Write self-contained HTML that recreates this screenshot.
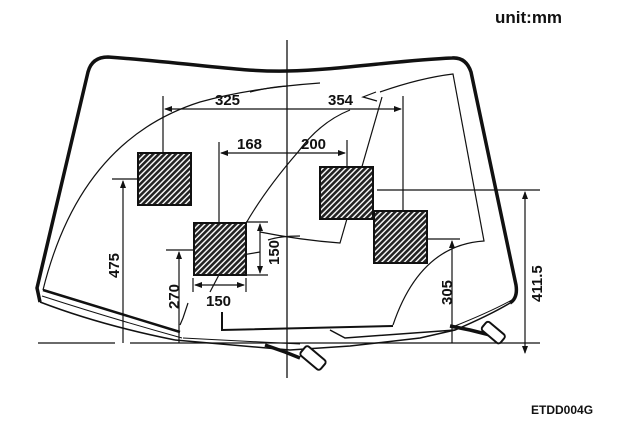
<!DOCTYPE html>
<html><head><style>
html,body{margin:0;padding:0;background:#fff;}
svg{display:block;}
text{font-family:"Liberation Sans",Arial,sans-serif;font-weight:bold;fill:#111;}
</style></head><body>
<svg width="620" height="428" viewBox="0 0 620 428" xmlns="http://www.w3.org/2000/svg">
<defs>
<pattern id="h" patternUnits="userSpaceOnUse" width="4" height="4" patternTransform="rotate(45)">
<rect width="4" height="4" fill="#fff"/>
<rect width="2.6" height="4" fill="#222"/>
</pattern>
<marker id="a" markerWidth="8" markerHeight="6" refX="7" refY="3" orient="auto" markerUnits="userSpaceOnUse">
<path d="M0,0 L8,3 L0,6 z" fill="#111"/>
</marker>
</defs>
<text x="495" y="23" font-size="17">unit:mm</text>
<text x="531" y="414" font-size="12" font-weight="normal">ETDD004G</text>

<g fill="none" stroke="#111">
<path d="M40,302 L37,288 L88,72 Q92,57 108,57 C200,64 240,72 287,71 C340,70 400,60 452,58 Q466,57 471,72 L516,285 Q518,298 510,303" stroke-width="3.5"/>
<path d="M40,302 Q100,325 175,340" stroke-width="1.5"/>
<path d="M42,296 Q110,318 182,338" stroke-width="1"/>
<path d="M43,290 L180,332" stroke-width="2.5"/>
<path d="M175,340 L290,350 L350,346 L420,338 L455,330 Q490,315 510,303" stroke-width="1.5"/>
<path d="M183,338 L300,344" stroke-width="1"/>
<path d="M455,326 Q490,312 512,300" stroke-width="1"/>
<path d="M222,312 L222,330 L393,326" stroke-width="2"/>
<path d="M330,330 L345,338 L455,330" stroke-width="1.5"/>
<path d="M43,290 Q80,140 200,102 Q250,88 320,83" stroke-width="1.2"/>
<path d="M380,92 Q420,78 453,74 L484,241 Q420,245 393,325" stroke-width="1.2"/>
<path d="M382,97 L340,243 Q300,240 260,232" stroke-width="1.2"/>
<path d="M350,110 Q320,122 298,152 Q265,190 245,225 L210,292" stroke-width="1.2"/>
<path d="M250,92 Q270,87 287,86" stroke-width="1.2"/>
<path d="M376,92 L363,97 L377,101" stroke-width="1.2"/>
<path d="M218,259 L260,252" stroke-width="1.2"/>
<path d="M188,303 L183,318 L180,325" stroke-width="1.2"/>
<path d="M287,40 L287,378" stroke-width="1.3"/>
<path d="M38,343 L115,343 M130,343 L540,343" stroke-width="1.2"/>
<path d="M163,96 L163,152 M403,96 L403,211" stroke-width="1.2"/>
<path d="M287,109 L165,109" stroke-width="1.2" marker-end="url(#a)"/>
<path d="M287,109 L401,109" stroke-width="1.2" marker-end="url(#a)"/>
<path d="M219,142 L219,222 M347,140 L347,167" stroke-width="1.2"/>
<path d="M287,153 L221,153" stroke-width="1.2" marker-end="url(#a)"/>
<path d="M287,153 L345,153" stroke-width="1.2" marker-end="url(#a)"/>
<path d="M112,179 L137,179" stroke-width="1.2"/>
<path d="M123,343 L123,181" stroke-width="1.2" marker-end="url(#a)"/>
<path d="M166,250 L193,250" stroke-width="1.2"/>
<path d="M179,343 L179,252" stroke-width="1.2" marker-end="url(#a)"/>
<path d="M427,239 L460,239" stroke-width="1.2"/>
<path d="M452,343 L452,241" stroke-width="1.2" marker-end="url(#a)"/>
<path d="M377,190 L540,190" stroke-width="1.2"/>
<path d="M525,270 L525,192" stroke-width="1.2" marker-end="url(#a)"/>
<path d="M525,270 L525,353" stroke-width="1.2" marker-end="url(#a)"/>
<path d="M246,222 L268,222 M246,275 L268,275" stroke-width="1.2"/>
<path d="M260,248 L260,224" stroke-width="1.2" marker-end="url(#a)"/>
<path d="M260,248 L260,273" stroke-width="1.2" marker-end="url(#a)"/>
<path d="M193,278 L193,292 M246,278 L246,292" stroke-width="1.2"/>
<path d="M219,285 L195,285" stroke-width="1.2" marker-end="url(#a)"/>
<path d="M219,285 L244,285" stroke-width="1.2" marker-end="url(#a)"/>
<path d="M268,240 Q280,236 300,236" stroke-width="1.2"/>
</g>

<g stroke="#111" stroke-width="2" fill="url(#h)">
<rect x="138" y="153" width="53" height="52"/>
<rect x="194" y="223" width="52" height="52"/>
<rect x="320" y="167" width="53" height="52"/>
<rect x="374" y="211" width="53" height="52"/>
</g>

<g stroke="#111" fill="#fff" stroke-width="2">
<path d="M265,345 L285,352 L300,358" fill="none" stroke-width="3.5"/>
<rect x="300" y="352" width="26" height="12" rx="3" transform="rotate(40 313 358)"/>
<path d="M450,326 L470,330 L490,335" fill="none" stroke-width="3.5"/>
<rect x="481" y="327" width="24" height="11" rx="3" transform="rotate(40 493 333)"/>
</g>

<text x="215" y="105" font-size="15">325</text>
<text x="328" y="105" font-size="15">354</text>
<text x="237" y="149" font-size="15">168</text>
<text x="301" y="149" font-size="15">200</text>
<text x="206" y="306" font-size="15">150</text>
<text font-size="15" transform="translate(119,278) rotate(-90)">475</text>
<text font-size="15" transform="translate(179,309) rotate(-90)">270</text>
<text font-size="15" transform="translate(279,265) rotate(-90)">150</text>
<text font-size="15" transform="translate(452,305) rotate(-90)">305</text>
<text font-size="15" transform="translate(542,302) rotate(-90)">411.5</text>
</svg>
</body></html>
